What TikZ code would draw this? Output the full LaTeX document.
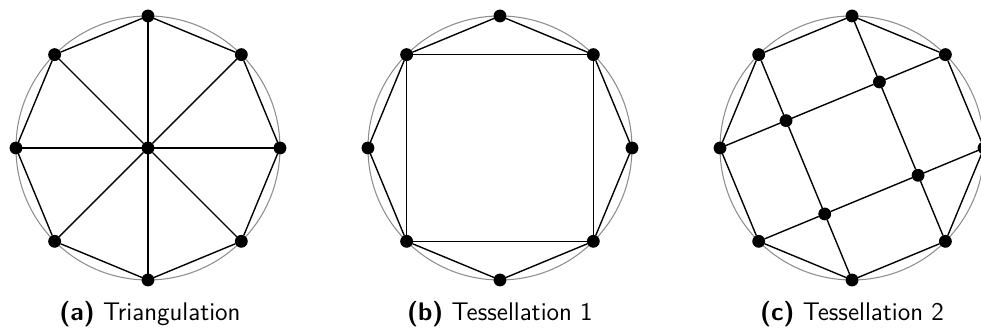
\documentclass[tikz,border=0pt]{standalone}
\usepackage{amsmath}
\usepackage{amssymb}
\usepackage{tikz}
\usetikzlibrary{calc}
\definecolor{rimgray}{RGB}{140,140,140}

\tikzset{
  vertex/.style={draw, circle, fill=black, inner sep=0pt, minimum size=0.18cm},
  edge/.style={line width=0.6pt},
  rim/.style={draw=rimgray, line width=0.45pt},
  caption/.style={font=\sffamily\fontsize{11}{13.6}\selectfont, anchor=base}
}

\begin{document}
\begin{tikzpicture}
      \useasboundingbox (-2.242,-2.818) rectangle (12.621,2.242);

      % (a) Triangulation
      \draw[rim] (0,0) circle (2cm);
      \foreach \k in {0,...,7}
        \node[vertex] (a\k) at (\k*45:2cm) {};
      \node[vertex] (ctr) at (0,0) {};
      \draw[edge] (a0) -- (a1) -- (a2) -- (a3) -- (a4) -- (a5) -- (a6) -- (a7) -- (a0);
      \foreach \k in {0,...,7}
        \draw[edge] (ctr) -- (a\k);
      \node[caption] (capa) at (0.03,-2.62) {\textbf{(a)} Triangulation};

      % (b) Tessellation 1
      \draw[rim] (5.333,0) circle (2cm);
      \foreach \k in {0,...,7}
        \node[vertex] (b\k) at ($(5.333,0)+(\k*45:2cm)$) {};
      \draw[edge] (b0) -- (b1) -- (b2) -- (b3) -- (b4) -- (b5) -- (b6) -- (b7) -- (b0);
      \draw[edge] (b1) -- (b3) -- (b5) -- (b7) -- (b1);
      \node[caption] (capb) at (5.333,-2.62) {\textbf{(b)} Tessellation 1};

      % (c) Tessellation 2
      \draw[rim] (10.667,0) circle (2cm);
      \foreach \k in {0,...,7}
        \node[vertex] (c\k) at ($(10.667,0)+(\k*45:2cm)$) {};
      \coordinate (q1) at (intersection of c2.center--c7.center and c1.center--c4.center);
      \coordinate (q2) at (intersection of c2.center--c7.center and c5.center--c0.center);
      \coordinate (q3) at (intersection of c3.center--c6.center and c1.center--c4.center);
      \coordinate (q4) at (intersection of c3.center--c6.center and c5.center--c0.center);
      \node[vertex] (p1) at (q1) {};
      \node[vertex] (p2) at (q2) {};
      \node[vertex] (p3) at (q3) {};
      \node[vertex] (p4) at (q4) {};
      \draw[edge] (c0) -- (c1) -- (c2) -- (c3) -- (c4) -- (c5) -- (c6) -- (c7) -- (c0);
      \draw[edge] (c2) -- (p1) -- (p2) -- (c7);
      \draw[edge] (c3) -- (p3) -- (p4) -- (c6);
      \draw[edge] (c1) -- (p1) -- (p3) -- (c4);
      \draw[edge] (c0) -- (p2) -- (p4) -- (c5);
      \node[caption] (capc) at (10.667,-2.62) {\textbf{(c)} Tessellation 2};
    \end{tikzpicture}
\end{document}
